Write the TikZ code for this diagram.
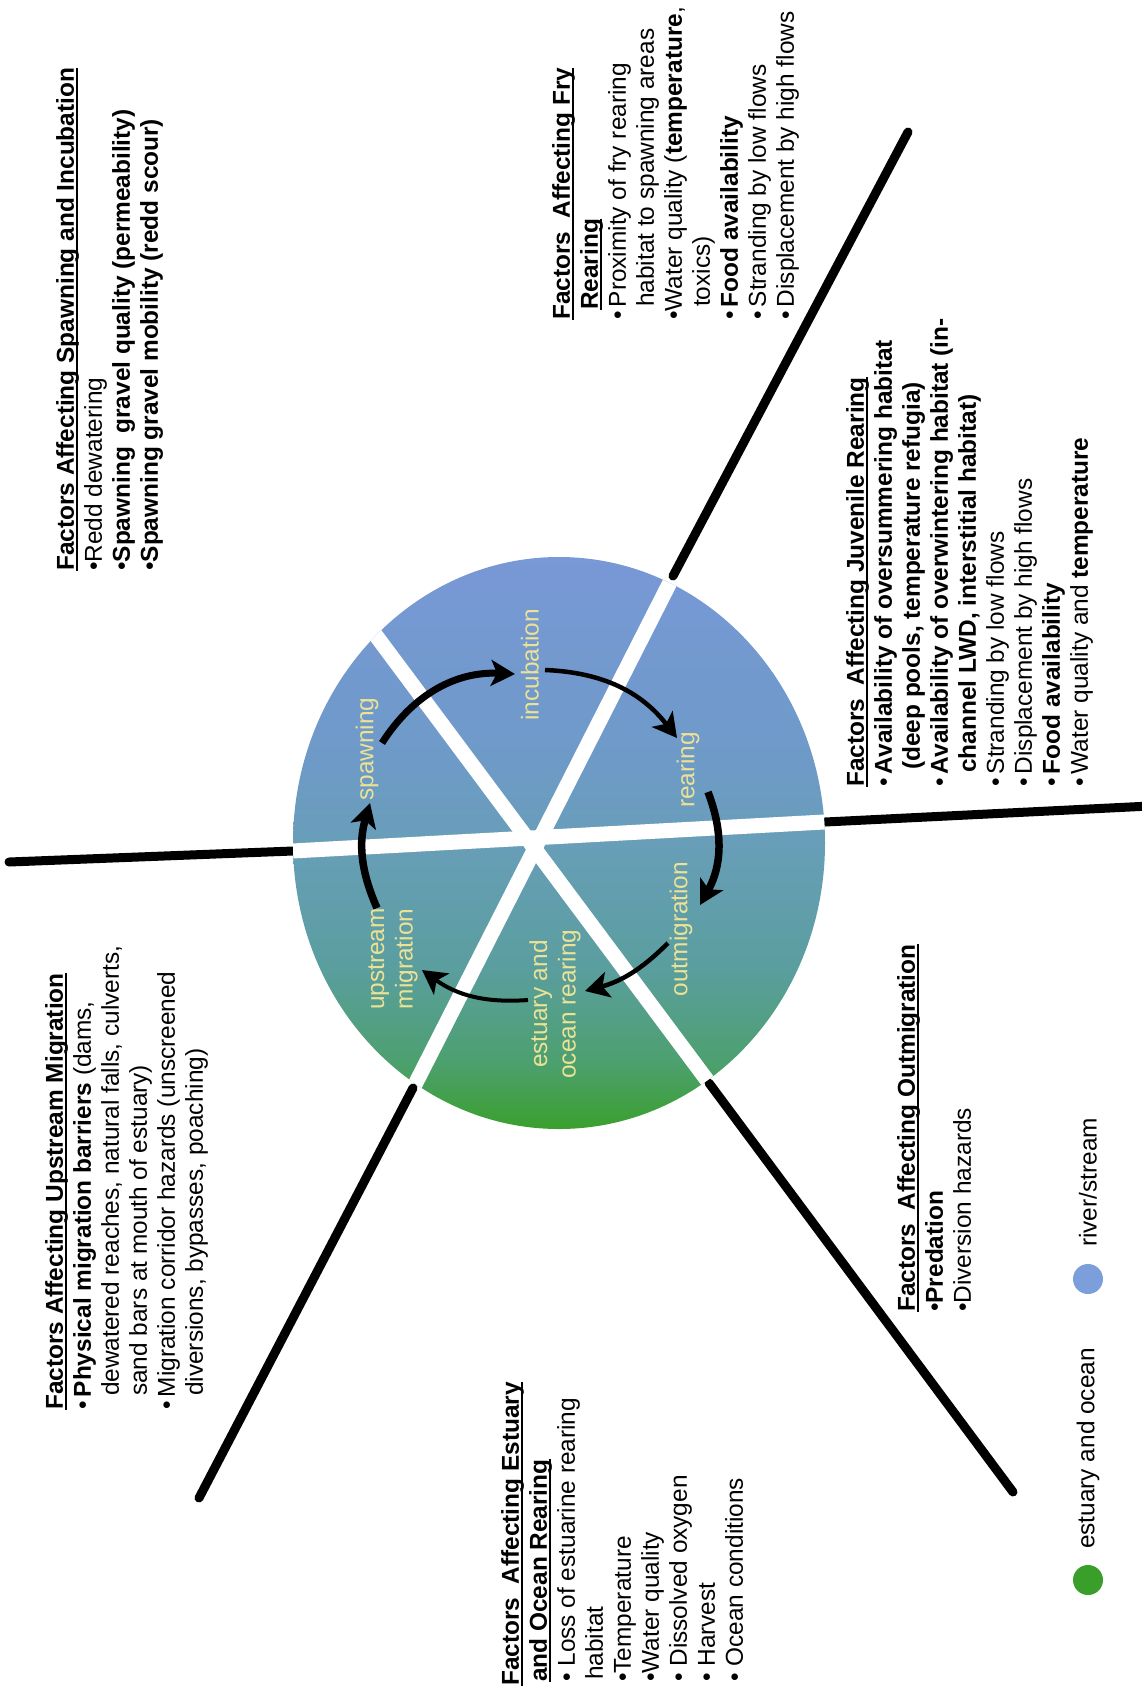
\documentclass[tikz,border=0pt]{standalone}
\usepackage{fontspec}
\setmainfont{Liberation Sans}
\usetikzlibrary{arrows.meta}
\definecolor{labc}{RGB}{236,226,150}
\definecolor{lgreen}{RGB}{58,158,42}
\definecolor{lblue}{RGB}{124,158,218}
\pgfdeclareverticalshading{wheel}{100bp}{
 rgb(0bp)=(0.227,0.627,0.176);
 rgb(25bp)=(0.227,0.627,0.176);
 rgb(31bp)=(0.302,0.627,0.439);
 rgb(39bp)=(0.353,0.620,0.620);
 rgb(50bp)=(0.408,0.620,0.722);
 rgb(57.5bp)=(0.431,0.604,0.784);
 rgb(75bp)=(0.471,0.596,0.839);
 rgb(100bp)=(0.471,0.596,0.839)}
\newcommand{\bl}{\textbullet}
\newcommand{\ind}[1]{\hspace*{#1pt}}
\newsavebox{\myulbox}
\newcommand{\myul}[1]{\sbox{\myulbox}{#1}\rlap{\rule[-4.5pt]{\wd\myulbox}{2pt}}\usebox{\myulbox}}
\tikzset{
 block/.style={rotate=90, anchor=north west, inner sep=0pt, align=left,
   font=\fontsize{24.4pt}{28pt}\selectfont},
 lab/.style={rotate=90, text=labc, inner sep=0pt, align=center,
   font=\fontsize{24.4pt}{28.5pt}\selectfont},
 divider/.style={line width=9pt, line cap=round, black},
 gapline/.style={white, line width=15pt},
 cyc/.style={-{Stealth[length=24pt,width=26pt,inset=6pt]}, line width=#1, black},
 legtext/.style={rotate=90, anchor=west, inner sep=0pt, font=\fontsize{24.4pt}{28pt}\selectfont},
 legdot/.style={circle, inner sep=0pt, minimum size=30pt}
}
\begin{document}
\begin{tikzpicture}[x=1pt,y=1pt]
\useasboundingbox (0,0) rectangle (1142,-1690);
% divider line end points
\coordinate (Lo) at (9,-862);   \coordinate (Li) at (293,-851);
\coordinate (Ro) at (1150,-806); \coordinate (Ri) at (825,-822);
\coordinate (URo) at (908,-132); \coordinate (URi) at (673,-576);
\coordinate (LLo) at (199,-1498); \coordinate (LLi) at (413,-1088);
\coordinate (LRo) at (1013,-1492); \coordinate (LRi) at (709,-1083);
\draw[divider] (Lo) -- (Li);
\draw[divider] (Ri) -- (Ro);
\draw[divider] (URi) -- (URo);
\draw[divider] (LLi) -- (LLo);
\draw[divider] (LRi) -- (LRo);
% wheel
\shade[shading=wheel] (559,-843) ellipse [x radius=266, y radius=286];
\begin{scope}
\clip (559,-843) ellipse [x radius=266, y radius=286];
\coordinate (gA1) at (250,-853.3); \coordinate (gA2) at (870,-819.5);
\coordinate (gB1) at (691,-541);   \coordinate (gB2) at (395,-1124);
\coordinate (gC1) at (348,-598);   \coordinate (gC2) at (733,-1115);
\draw[gapline] (gA1) -- (gA2);
\draw[gapline] (gB1) -- (gB2);
\draw[gapline] (gC1) -- (gC2);
\end{scope}
% stage labels
\node[lab] (spw) at (367,-749) {spawning};
\node[lab] (inc) at (530,-665) {incubation};
\node[lab] (rea) at (688,-770) {rearing};
\node[lab] (out) at (681,-929) {outmigration};
\node[lab] (est) at (555,-1004) {estuary and\\ocean rearing};
\node[lab] (ups) at (393,-959) {upstream\\migration};
% cycle arrows
\coordinate (a1s) at (382,-743); \coordinate (a1e) at (515,-674);
\coordinate (a2s) at (545,-670); \coordinate (a2e) at (677,-738);
\coordinate (a3s) at (708,-792); \coordinate (a3e) at (700,-905);
\coordinate (a4s) at (668,-943); \coordinate (a4e) at (585,-991);
\coordinate (a5s) at (528,-1000); \coordinate (a5e) at (422,-970);
\coordinate (a6s) at (377,-908); \coordinate (a6e) at (370,-803);
\draw[cyc=7pt] (a1s) to[bend left=30] (a1e);
\draw[cyc=4.5pt] (a2s) to[bend left=25] (a2e);
\draw[cyc=7.5pt] (a3s) to[bend left=25] (a3e);
\draw[cyc=4.5pt] (a4s) to[bend left=15] (a4e);
\draw[cyc=4pt] (a5s) to[bend left=20] (a5e);
\draw[cyc=7.5pt] (a6s) to[bend left=20] (a6e);
% text blocks
\node[block] (bsp) at (56,-571) {\textbf{\myul{Factors Affecting Spawning and Incubation}}\\
\bl Redd dewatering\\
\bl\textbf{Spawning\ \ gravel quality (permeability)}\\
\bl\textbf{Spawning gravel mobility (redd scour)}};
\node[block] (bfry) at (552,-320) {\textbf{\myul{Factors\ \ Affecting Fry}}\\
\ind{10}\textbf{\myul{Rearing}}\\
\bl\,Proximity of fry rearing\\
\ind{13}habitat to spawning areas\\
\bl Water quality (\textbf{temperature},\\
\ind{13}toxics)\\
\bl\,\textbf{Food availability}\\
\bl\,Stranding by low flows\\
\bl\,Displacement by high flows};
\node[block] (bjuv) at (846,-787) {\textbf{\myul{Factors\ \ Affecting Juvenile Rearing}}\\
\bl\,\textbf{Availability of oversummering habitat}\\
\ind{17}\textbf{(deep pools, temperature refugia)}\\
\bl\,\textbf{Availability of overwintering habitat (in-}\\
\ind{14}\textbf{channel LWD, interstitial habitat)}\\
\bl\,Stranding by low flows\\
\bl\,Displacement by high flows\\
\bl\,\textbf{Food availability}\\
\bl\,Water quality and \textbf{temperature}};
\node[block] (bout) at (897,-1312) {\textbf{\myul{Factors\ \ Affecting Outmigration}}\\
\bl\textbf{Predation}\\
\bl Diversion hazards};
\node[block] (bups) at (45,-1410) {\textbf{\myul{Factors Affecting Upstream Migration}}\\
\bl\,\textbf{Physical migration barriers} (dams,\\
\ind{14}dewatered reaches, natural falls, culverts,\\
\ind{14}sand bars at mouth of estuary)\\
\bl\,Migration corridor hazards (unscreened\\
\ind{14}diversions, bypasses, poaching)};
\node[block] (best) at (501,-1686) {\textbf{\myul{Factors\ \ Affecting Estuary}}\\
\ind{4}\textbf{\myul{and Ocean Rearing}}\\
\ind{4}\bl\ Loss of estuarine rearing\\
\ind{6}habitat\\
\ind{4}\bl Temperature\\
\ind{4}\bl Water quality\\
\ind{4}\bl\ Dissolved oxygen\\
\ind{4}\bl\ Harvest\\
\ind{4}\bl\ Ocean conditions};
% legend
\node[legdot, fill=lgreen] (lgd) at (1088,-1580) {};
\node[legtext] (lgt) at (1088,-1549) {estuary and ocean};
\node[legdot, fill=lblue] (lbd) at (1088,-1279) {};
\node[legtext] (lbt) at (1088,-1247) {river/stream};
\end{tikzpicture}
\end{document}
